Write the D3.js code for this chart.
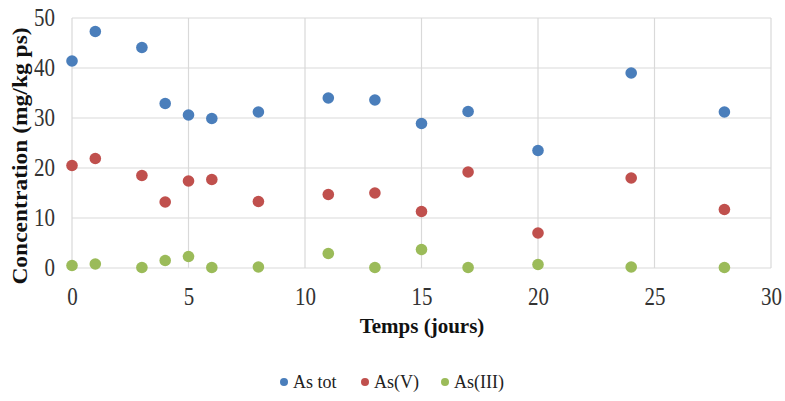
<!DOCTYPE html>
<html>
<head>
<meta charset="utf-8">
<script src="https://cdn.jsdelivr.net/npm/d3@7"></script>
<style>
  body { margin: 0; background: #fff; }
  text { font-family: "Liberation Serif", "Times New Roman", serif; }
</style>
</head>
<body>
<div id="chart"></div>
<script>
const width = 785;
const height = 401;

const margin = { top: 18, left: 72, bottom: 133, right: 14 };

// days of sampling
const days = [0, 1, 3, 4, 5, 6, 8, 11, 13, 15, 17, 20, 24, 28];
const asTot = [41.4, 47.3, 44.1, 32.9, 30.6, 29.9, 31.2, 34.0, 33.6, 28.9, 31.3, 23.5, 39.0, 31.2];
const asV = [20.5, 21.9, 18.5, 13.2, 17.4, 17.7, 13.3, 14.7, 15.0, 11.3, 19.2, 7.0, 18.0, 11.7];
const asIII = [0.5, 0.8, 0.1, 1.5, 2.3, 0.1, 0.2, 2.9, 0.1, 3.7, 0.1, 0.7, 0.2, 0.1];

const xTicks = [0, 5, 10, 15, 20, 25, 30];
const yTicks = [0, 10, 20, 30, 40, 50];

const series = [
    { name: "As tot", values: asTot, color: "#4a7ebb" },
    { name: "As(V)", values: asV, color: "#c0504d" },
    { name: "As(III)", values: asIII, color: "#9bbb59" }
];

const xScale = d3.scaleLinear().domain([0, 30]).range([0, 699]);
const yScale = d3.scaleLinear().domain([0, 50]).range([250, 0]);

const svg = d3.select("#chart").append("svg").attr("width", width).attr("height", height);
const g = svg.append("g").attr("transform", `translate(${margin.left},${margin.top})`);

// gridlines
g.selectAll(".hgrid").data(yTicks).join("line")
    .attr("x1", 0).attr("x2", xScale(30))
    .attr("y1", d => yScale(d)).attr("y2", d => yScale(d))
    .attr("stroke", "#d9d9d9").attr("stroke-width", 1.2);

g.selectAll(".vgrid").data(xTicks).join("line")
    .attr("x1", d => xScale(d)).attr("x2", d => xScale(d))
    .attr("y1", 0).attr("y2", yScale(0))
    .attr("stroke", "#d9d9d9").attr("stroke-width", 1.2);

// axes (labels only), text a bit taller like the source picture
const yAxis = d3.axisLeft(yScale).tickValues(yTicks).tickSize(0).tickPadding(17);
const xAxis = d3.axisBottom(xScale).tickValues(xTicks).tickSize(0).tickPadding(17);

g.append("g").call(yAxis)
    .call(a => a.select(".domain").remove())
    .selectAll("text")
    .attr("font-family", "Liberation Serif, serif")
    .attr("font-size", 21)
    .attr("fill", "#333")
    .attr("transform", "scale(1,1.15)");

g.append("g").attr("transform", `translate(0,${yScale(0)})`).call(xAxis)
    .call(a => a.select(".domain").remove())
    .selectAll("text")
    .attr("font-family", "Liberation Serif, serif")
    .attr("font-size", 21)
    .attr("fill", "#333")
    .attr("transform", "scale(1,1.15)");

// points
series.forEach(s => {
    g.append("g").selectAll("circle")
        .data(days.map((d, i) => ({ day: d, v: s.values[i] })))
        .join("circle")
        .attr("cx", d => xScale(d.day))
        .attr("cy", d => yScale(d.v))
        .attr("r", 5.8)
        .attr("fill", s.color);
});

// axis titles
svg.append("text")
    .attr("transform", `translate(27,${margin.top + 138}) rotate(-90) scale(1.12,1)`)
    .attr("text-anchor", "middle")
    .attr("font-weight", "bold")
    .attr("font-size", 21)
    .attr("fill", "#111")
    .text("Concentration (mg/kg ps)");

svg.append("text")
    .attr("x", 422)
    .attr("y", 333)
    .attr("text-anchor", "middle")
    .attr("font-weight", "bold")
    .attr("font-size", 21)
    .attr("fill", "#111")
    .text("Temps (jours)");

// legend
const legendX = [284, 365, 445];
const legend = svg.append("g");
series.forEach((s, i) => {
    legend.append("circle")
        .attr("cx", legendX[i]).attr("cy", 382).attr("r", 4)
        .attr("fill", s.color);
    legend.append("text")
        .attr("x", legendX[i] + 9).attr("y", 388)
        .attr("font-size", 18)
        .attr("fill", "#222")
        .text(s.name);
});
</script>
</body>
</html>
